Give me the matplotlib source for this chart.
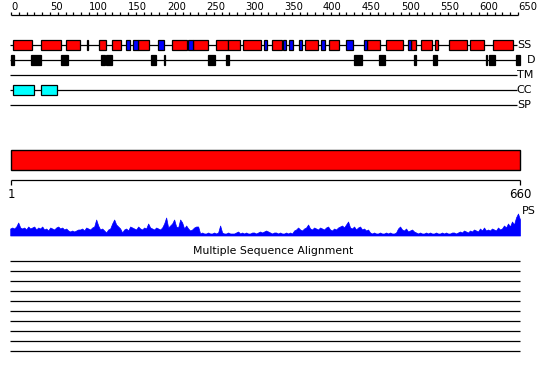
import numpy as np
import matplotlib
matplotlib.use("Agg")
import matplotlib.pyplot as plt
from matplotlib import font_manager

SEQ_LEN = 660

# secondary structure (residue start, end)
helices = [(2, 27), (38, 64), (70, 89), (98, 99), (113, 122), (130, 141),
           (163, 177), (207, 225), (233, 252), (263, 278), (278, 293),
           (297, 321), (335, 347), (377, 393), (408, 421), (456, 473),
           (481, 503), (513, 519), (525, 540), (544, 547), (561, 584),
           (588, 606), (618, 644)]
strands = [(147, 153), (157, 163), (189, 196), (227, 233), (324, 328),
           (349, 353), (356, 361), (369, 373), (397, 403), (429, 439),
           (453, 456), (509, 513)]
disorder = [(0, 4), (26, 38), (64, 73), (115, 120), (122, 130), (179, 186),
            (196, 198), (253, 261), (276, 279), (440, 450), (472, 480),
            (517, 519), (541, 546), (609, 610), (613, 620), (648, 653)]
coiled_coil = [(3, 30), (38, 59)]
track_names = ["SS", "D", "TM", "CC", "SP"]

ruler_ticks = list(range(0, 651, 10))
ruler_labels = list(range(0, 651, 50))

# PSIPRED-like profile (PS), heights
ps_values = [7, 8, 7, 9, 13, 8,
             7, 8, 6, 9, 7, 8, 9, 6, 8, 7, 9,
             6, 7, 5, 8, 7, 6, 8, 9, 7, 8, 6, 7, 5,
             4, 5, 4, 5, 6,
             6, 7, 5, 8, 7, 6, 8, 9,
             16,
             10, 6, 7, 5, 3, 6, 7,
             12, 16, 11, 9, 7, 3, 6, 7, 5, 9,
             8, 7, 6, 9, 7, 6, 8, 7,
             12, 8, 7, 6, 8, 7, 6, 8,
             12, 18, 8, 10, 12, 16, 9, 8, 16, 13, 7, 10, 7, 5, 6, 8, 9, 9,
             2, 3, 2, 2, 3, 2, 2, 3, 2, 3,
             10, 3,
             2, 2, 3, 2, 2, 2, 3,
             4,
             2, 3, 2, 3, 2, 2, 3, 3, 2, 3, 4, 3,
             4, 5, 4,
             3, 2, 3, 3, 2, 3, 2, 2, 3, 2, 3, 2,
             5, 6, 8, 6, 5, 7,
             8, 11, 7, 6, 8, 7, 6, 8, 7, 6, 8, 9, 6, 5, 7, 6, 8, 9, 10, 8,
             11, 14, 8, 7, 9, 6, 8, 9, 6, 7, 5, 6, 3,
             2, 3, 2, 2, 3, 2, 2, 3, 2, 3, 2, 2, 3,
             7, 9, 6, 5, 7, 4, 5, 6, 4, 3,
             2, 3, 2, 2, 3, 2, 3, 2, 2, 3, 2, 2, 3, 2, 3, 2, 2, 3, 3, 2,
             3, 4, 3, 5, 4, 3, 5, 4, 6, 5, 4, 7, 5, 8,
             5, 6, 5, 7, 6, 5, 8, 6,
             7, 10, 8, 12, 9,
             14, 11, 18, 22, 16]

MSA_ROWS = 10

W, H = 550, 380
narrow = "Liberation Sans Narrow"
names = {f.name for f in font_manager.fontManager.ttflist}
small_font = [narrow, "DejaVu Sans"] if narrow in names else ["DejaVu Sans"]


def boxes(ax, spans, y, h, color):
    for s, e in spans:
        ax.barh(y, e - s, left=s, height=h, color=color,
                edgecolor="black", linewidth=0.9, zorder=3)


def main():
    fig = plt.figure(figsize=(W / 100, H / 100), dpi=100)

    # top part: residue scale 0 -> px 11, 650 -> px 518
    s1 = 0.78
    ax = fig.add_axes([0, 0, 1, 1])
    ax.set_xlim(-11 / s1, (W - 11) / s1)
    ax.set_ylim(H, 0)
    ax.axis("off")

    ax.hlines(15, 0, 650, color="black", lw=0.9)
    ax.vlines(ruler_ticks, 12, 15, color="black", lw=0.9)
    for t in ruler_labels:
        ax.text(t, 9.8, str(t), ha="left", va="baseline", fontsize=7.2,
                family=small_font)

    rows = [45, 60, 75, 90, 105]
    for y in rows:
        ax.hlines(y, -1, 649, color="black", lw=0.9, zorder=1)
    boxes(ax, helices, rows[0], 10.5, "#ff0000")
    boxes(ax, strands, rows[0], 10.5, "#0000ff")
    boxes(ax, disorder, rows[1], 10.5, "black")
    boxes(ax, coiled_coil, rows[3], 10.5, "#00ffff")
    for name, y in zip(track_names, rows):
        x = 662 if name == "D" else 648.5
        ax.text(x, y, name, ha="left", va="center", fontsize=8,
                family=small_font)

    # bottom part: residue scale 1 -> px 11, 660 -> px 520
    s2 = 509 / 659
    ax2 = fig.add_axes([0, 0, 1, 1])
    ax2.set_xlim(1 - 11 / s2, 1 + (W - 11) / s2)
    ax2.set_ylim(H, 0)
    ax2.axis("off")
    ax2.patch.set_alpha(0)

    ax2.barh(160.3, SEQ_LEN - 1, left=1, height=20, color="#ff0000",
             edgecolor="black", linewidth=1)
    ax2.hlines(180, 1, SEQ_LEN, color="black", lw=0.9)
    ax2.vlines([1, SEQ_LEN], 180, 184.5, color="black", lw=0.9)
    ax2.text(1, 195, "1", ha="center", va="center", fontsize=8.5)
    ax2.text(SEQ_LEN, 195, str(SEQ_LEN), ha="center", va="center", fontsize=8.5)
    ax2.text(SEQ_LEN + 2.5, 211, "PS", ha="left", va="center", fontsize=8,
             family=small_font)

    ax2.text(341, 251, "Multiple Sequence Alignment", ha="center",
             va="center", fontsize=7.8)
    msa_y = 260.5 + 10.1 * np.arange(MSA_ROWS)
    ax2.hlines(msa_y, 0, SEQ_LEN, color="black", lw=0.9)

    # profile track
    ax3 = fig.add_axes([0, (H - 235.5) / H, 1, 30 / H])
    ax3.set_xlim(ax2.get_xlim())
    ax3.set_ylim(0, 30)
    ax3.axis("off")
    ax3.patch.set_alpha(0)
    px = np.linspace(0, SEQ_LEN, len(ps_values))
    ax3.fill_between(px, 0, ps_values, color="#0000ff", lw=0.5,
                     edgecolor="#0000ff")

    fig.savefig("out.png", dpi=100)


if __name__ == "__main__":
    main()
